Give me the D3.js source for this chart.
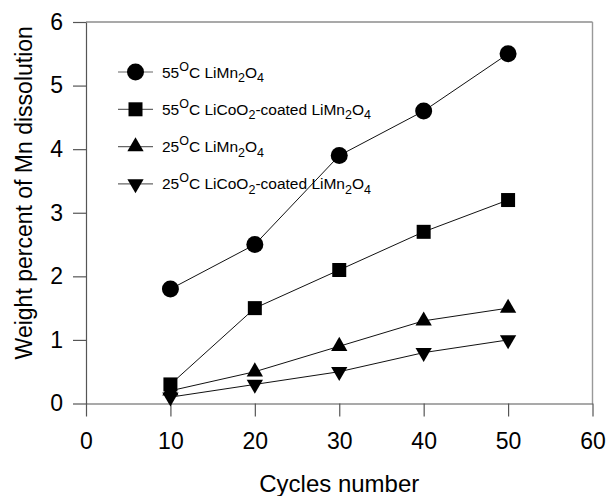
<!DOCTYPE html>
<html>
<head>
<meta charset="utf-8">
<script src="https://cdn.jsdelivr.net/npm/d3@7"></script>
<style>
  body { margin: 0; background: #fff; }
  text { font-family: "Liberation Sans", Arial, sans-serif; fill: #000; }
</style>
</head>
<body>
<div id="chart"></div>
<script>
// dados
var cycles = [10, 20, 30, 40, 50];
var mn55 = [1.8, 2.5, 3.9, 4.6, 5.5];
var mn55Coated = [0.3, 1.5, 2.1, 2.7, 3.2];
var mn25 = [0.2, 0.5, 0.9, 1.3, 1.5];
var mn25Coated = [0.1, 0.3, 0.5, 0.8, 1.0];
var xTicks = [0, 10, 20, 30, 40, 50, 60];
var yTicks = [0, 1, 2, 3, 4, 5, 6];
// rótulos da legenda: [texto, tipo] (n = normal, sup, sub)
var labels = [
  [["55", "n"], ["O", "sup"], ["C LiMn", "n"], ["2", "sub"], ["O", "n"], ["4", "sub"]],
  [["55", "n"], ["O", "sup"], ["C LiCoO", "n"], ["2", "sub"], ["-coated LiMn", "n"], ["2", "sub"], ["O", "n"], ["4", "sub"]],
  [["25", "n"], ["O", "sup"], ["C LiMn", "n"], ["2", "sub"], ["O", "n"], ["4", "sub"]],
  [["25", "n"], ["O", "sup"], ["C LiCoO", "n"], ["2", "sub"], ["-coated LiMn", "n"], ["2", "sub"], ["O", "n"], ["4", "sub"]]
];
var series = [mn55, mn55Coated, mn25, mn25Coated];

function createChart() {
  var margin = {top: 22, right: 16.5, bottom: 92.5, left: 86},
      width = 609 - margin.left - margin.right,
      height = 496 - margin.top - margin.bottom;

  var svg = d3.select("#chart")
    .append("svg")
      .attr("width", 609)
      .attr("height", 496)
    .append("g")
      .attr("transform", "translate(" + margin.left + "," + margin.top + ")");

  var x = d3.scaleLinear().domain([0, 60]).range([0, width]);
  var y = d3.scaleLinear().domain([0, 6]).range([height, 0]);

  // borda superior e direita
  svg.append("line").attr("x1", 0).attr("x2", width).attr("y1", 0).attr("y2", 0)
    .attr("stroke", "#555").attr("stroke-width", 1.2);
  svg.append("line").attr("x1", width).attr("x2", width).attr("y1", 0).attr("y2", height)
    .attr("stroke", "#999").attr("stroke-width", 1.4);

  // Eixo X
  var gx = svg.append("g")
    .attr("transform", "translate(0," + height + ")")
    .call(d3.axisBottom(x).tickValues(xTicks).tickFormat(d3.format("d"))
      .tickSize(13).tickPadding(16.5).tickSizeOuter(0));
  // Eixo Y
  var gy = svg.append("g")
    .call(d3.axisLeft(y).tickValues(yTicks).tickFormat(d3.format("d"))
      .tickSize(13).tickPadding(10).tickSizeOuter(0));

  [gx, gy].forEach(function (g) {
    g.select(".domain").attr("stroke", "#555").attr("stroke-width", 1.2);
    g.selectAll(".tick line").attr("stroke", "#555").attr("stroke-width", 1.2);
    g.selectAll(".tick text").attr("font-size", 23).attr("fill", "#000")
      .attr("font-family", "Liberation Sans, Arial, sans-serif");
  });

  // títulos
  svg.append("text")
    .attr("x", width / 2).attr("y", height + 88)
    .attr("text-anchor", "middle").attr("font-size", 24)
    .text("Cycles number");
  svg.append("text")
    .attr("transform", "translate(" + (-54) + "," + (height / 2 - 20) + ") rotate(-90)")
    .attr("text-anchor", "middle").attr("font-size", 23)
    .text("Weight percent of Mn dissolution");

  var symbols = [
    d3.symbol().type(d3.symbolCircle).size(227),
    d3.symbol().type(d3.symbolSquare).size(196),
    d3.symbol().type(d3.symbolTriangle).size(115),
    d3.symbol().type(d3.symbolTriangle).size(115)
  ];
  var rot = [0, 0, 0, 180];

  var line = d3.line()
    .x(function (d, i) { return x(cycles[i]); })
    .y(function (d) { return y(d); });

  series.forEach(function (s) {
    svg.append("path").datum(s)
      .attr("d", line).attr("fill", "none")
      .attr("stroke", "#111").attr("stroke-width", 1);
  });
  series.forEach(function (s, k) {
    svg.append("g").selectAll("path")
      .data(s).enter().append("path")
        .attr("d", symbols[k])
        .attr("transform", function (d, i) {
          return "translate(" + x(cycles[i]) + "," + y(d) + ") rotate(" + rot[k] + ")";
        })
        .attr("fill", "#000");
  });

  // legenda
  var legend = svg.append("g").attr("transform", "translate(32,50)");
  labels.forEach(function (parts, k) {
    var row = legend.append("g").attr("transform", "translate(0," + (k * 37.3) + ")");
    row.append("line").attr("x1", 0).attr("x2", 35).attr("y1", 0).attr("y2", 0)
      .attr("stroke", "#666").attr("stroke-width", 1.2);
    row.append("path").attr("d", symbols[k])
      .attr("transform", "translate(17.5,0) rotate(" + rot[k] + ")")
      .attr("fill", "#000");
    var t = row.append("text").attr("x", 44).attr("y", 5.5).attr("font-size", 15.5);
    var shift = 0;
    parts.forEach(function (p) {
      var target = p[1] === "sup" ? -7 : (p[1] === "sub" ? 4.5 : 0);
      t.append("tspan")
        .attr("dy", target - shift)
        .attr("font-size", p[1] === "n" ? 15.5 : 12.5)
        .text(p[0]);
      shift = target;
    });
  });
}

document.addEventListener("DOMContentLoaded", function () {
  createChart();
});
</script>
</body>
</html>
